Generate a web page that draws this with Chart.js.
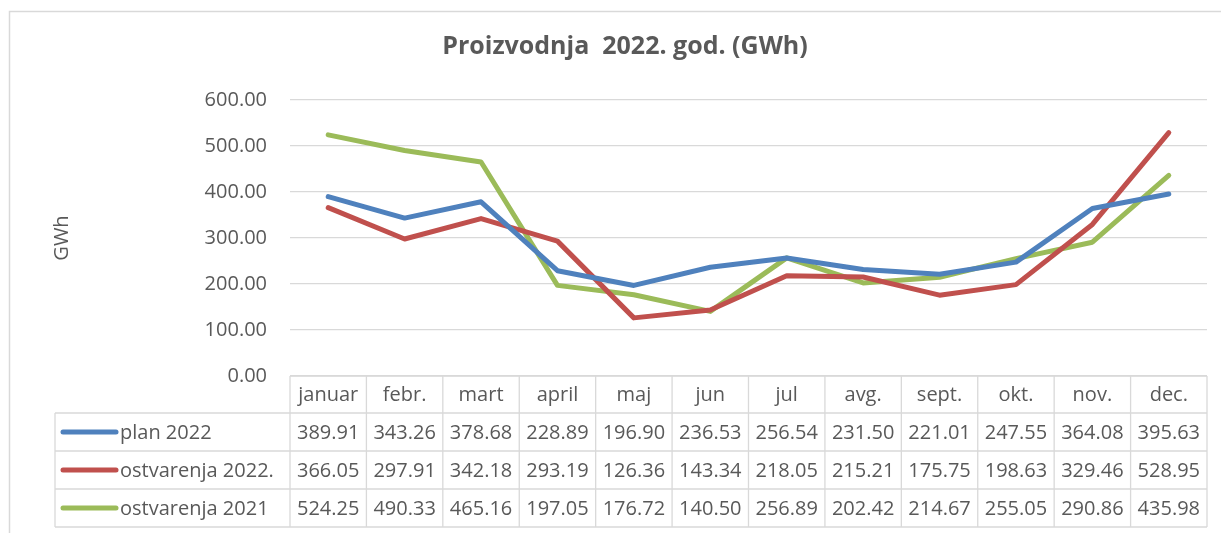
<!DOCTYPE html>
<html>
<head>
<meta charset="utf-8">
<script src="https://cdn.jsdelivr.net/npm/chart.js@4.4.1/dist/chart.umd.min.js"></script>
<style>
html,body{margin:0;padding:0;background:#fff;}
canvas{display:block;}
</style>
</head>
<body>
<canvas id="c" width="1221" height="533"></canvas>
<script>
const months = ["januar","febr.","mart","april","maj","jun","jul","avg.","sept.","okt.","nov.","dec."];
const plan2022 = [389.91,343.26,378.68,228.89,196.90,236.53,256.54,231.50,221.01,247.55,364.08,395.63];
const ostv2022 = [366.05,297.91,342.18,293.19,126.36,143.34,218.05,215.21,175.75,198.63,329.46,528.95];
const ostv2021 = [524.25,490.33,465.16,197.05,176.72,140.50,256.89,202.42,214.67,255.05,290.86,435.98];
const seriesNames = ["plan 2022","ostvarenja 2022.","ostvarenja 2021"];
const yTicks = [0,100,200,300,400,500,600];
const titleText = "Proizvodnja  2022. god. (GWh)";
const yTitle = "GWh";

const colors = ["#4F81BD","#C0504D","#9BBB59"];
const txt = "#595959";
const gridC = "#d9d9d9";
const FONT = "'Open Sans', sans-serif";

const seriesData = [plan2022, ostv2022, ostv2021];

const tablePlugin = {
  id: 'tablePlugin',
  afterDraw(chart) {
    const ctx = chart.ctx;
    const ca = chart.chartArea;
    const xs = chart.scales.x;
    const n = months.length;
    const colW = (ca.right - ca.left) / n;
    const rowTop = ca.bottom;
    const rowH = [37, 38, 38, 38];
    const rowsY = [rowTop];
    for (let i = 0; i < rowH.length; i++) rowsY.push(rowsY[i] + rowH[i]);
    const legLeft = 55;
    ctx.save();
    // outer frame
    ctx.strokeStyle = gridC; ctx.lineWidth = 1.5;
    ctx.beginPath();
    ctx.moveTo(9.5, 533); ctx.lineTo(9.5, 11.5); ctx.lineTo(1221, 11.5);
    ctx.stroke();
    // table lines
    ctx.lineWidth = 1.3;
    ctx.beginPath();
    ctx.moveTo(ca.left, rowsY[0]); ctx.lineTo(ca.right, rowsY[0]);
    for (let r = 1; r < rowsY.length; r++) { ctx.moveTo(legLeft, rowsY[r]); ctx.lineTo(ca.right, rowsY[r]); }
    ctx.moveTo(legLeft, rowsY[1]); ctx.lineTo(legLeft, rowsY[4]);
    for (let i = 0; i <= n; i++) {
      const x = ca.left + i * colW;
      ctx.moveTo(x, rowsY[0]); ctx.lineTo(x, rowsY[4]);
    }
    ctx.stroke();
    // header texts
    ctx.fillStyle = txt;
    ctx.font = "20px " + FONT;
    ctx.textAlign = 'center'; ctx.textBaseline = 'middle';
    for (let i = 0; i < n; i++) {
      const x = xs.getPixelForValue(i);
      ctx.fillText(months[i], x, (rowsY[0] + rowsY[1]) / 2 + 1);
    }
    for (let s = 0; s < 3; s++) {
      const yc = (rowsY[s + 1] + rowsY[s + 2]) / 2 + 1;
      for (let i = 0; i < n; i++) {
        const x = xs.getPixelForValue(i);
        ctx.fillText(seriesData[s][i].toFixed(2), x, yc);
      }
      ctx.strokeStyle = colors[s]; ctx.lineWidth = 5; ctx.lineCap = 'round';
      ctx.beginPath(); ctx.moveTo(63, yc - 1); ctx.lineTo(116, yc - 1); ctx.stroke();
      ctx.textAlign = 'left';
      ctx.fillText(seriesNames[s], 120, yc);
      ctx.textAlign = 'center';
    }
    // title
    ctx.font = "bold 25px " + FONT;
    ctx.textBaseline = 'alphabetic';
    ctx.fillText(titleText, 625, 54);
    // y title
    ctx.font = "20px " + FONT;
    ctx.translate(68, 238); ctx.rotate(-Math.PI / 2);
    ctx.textBaseline = 'alphabetic';
    ctx.fillText(yTitle, 0, 0);
    ctx.restore();
  }
};

new Chart(document.getElementById('c'), {
  type: 'line',
  data: {
    labels: months,
    datasets: seriesNames.map((nm, i) => ({
      label: nm,
      data: seriesData[i],
      borderColor: colors[i],
      backgroundColor: colors[i],
      borderWidth: 5,
      pointRadius: 0,
      tension: 0,
      borderCapStyle: 'round',
      borderJoinStyle: 'round',
      fill: false
    }))
  },
  options: {
    responsive: false,
    animation: false,
    layout: { padding: { left: 0, right: 14, top: 100, bottom: 157 } },
    plugins: { legend: { display: false }, title: { display: false }, tooltip: { enabled: false } },
    scales: {
      x: {
        offset: true,
        grid: { display: false },
        border: { display: false },
        ticks: { display: false },
        afterFit(s) { s.height = 0; }
      },
      y: {
        min: 0, max: 600,
        afterBuildTicks(s) { s.ticks = yTicks.map(v => ({ value: v })); },
        grid: { color: gridC, lineWidth: 1.3, drawTicks: false },
        border: { display: false },
        ticks: {
          color: txt, padding: 23,
          font: { family: "'Open Sans', sans-serif", size: 20 },
          callback: v => Number(v).toFixed(2)
        },
        afterFit(s) { s.width = 290; }
      }
    }
  },
  plugins: [tablePlugin]
});
</script>
</body>
</html>
